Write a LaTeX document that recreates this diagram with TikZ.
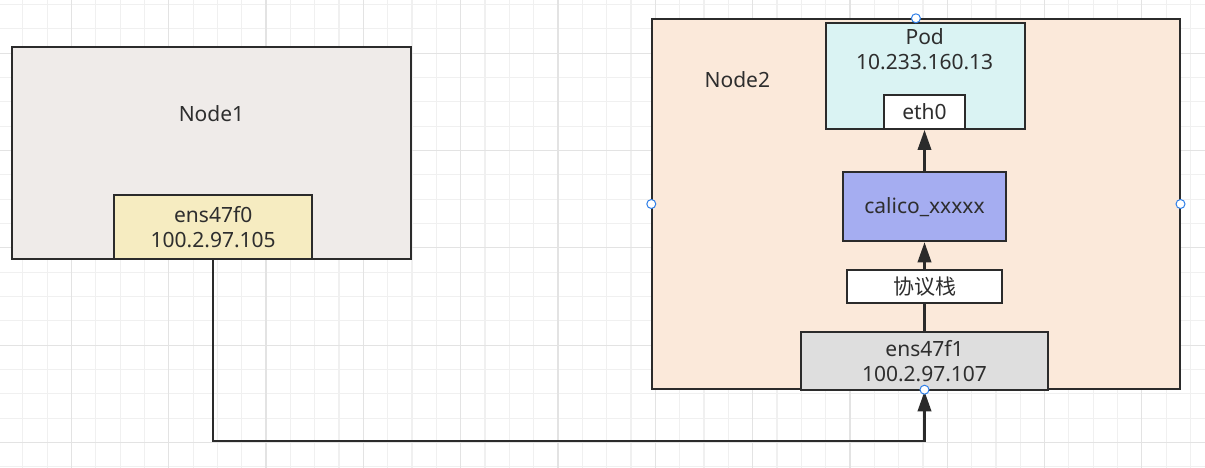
\documentclass[tikz,border=0pt]{standalone}
\usepackage{fontspec}
\setmainfont{Noto Sans}
\newfontfamily\cjk{Noto Sans CJK SC}
\usetikzlibrary{arrows.meta}
\definecolor{edgec}{HTML}{2B2B2B}
\definecolor{textgray}{HTML}{2E2E2E}
\definecolor{gridminor}{HTML}{F0F0F0}
\definecolor{gridmajor}{HTML}{E3E3E3}
\definecolor{nodeonefill}{HTML}{EFEBE9}
\definecolor{ensfill}{HTML}{F6ECC1}
\definecolor{nodetwofill}{HTML}{FBE9DA}
\definecolor{podfill}{HTML}{DAF3F3}
\definecolor{califill}{HTML}{A5ADF1}
\definecolor{ensonefill}{HTML}{DEDEDE}
\definecolor{handleblue}{HTML}{2F7FE8}
\tikzset{
  box/.style={draw=edgec, line width=2pt, inner sep=0pt, rectangle},
  txt/.style={text=textgray, font=\fontsize{21}{25}\selectfont, align=center, inner sep=0pt},
  conn/.style={draw=edgec, line width=2.2pt},
  arr/.style={conn, -{Triangle[length=20pt,width=13.5pt]}},
  handle/.style={circle, draw=handleblue, fill=white, line width=1pt, minimum size=9pt, inner sep=0pt},
}
\begin{document}
\begin{tikzpicture}[x=1pt,y=-1pt]
\useasboundingbox (0,0) rectangle (1205,468);
\fill[white] (0,0) rectangle (1205,468);
\begin{scope}
\clip (0,0) rectangle (1205,468);
\foreach \i in {0,...,50} { \draw[gridminor, line width=1.1pt] ({22.74+24.33*\i},0) -- ++(0,468); }
\foreach \i in {0,...,20} { \draw[gridminor, line width=1.1pt] (0,{4.44+24.33*\i}) -- ++(1205,0); }
\foreach \i in {0,...,13} { \draw[gridmajor, line width=1.1pt] ({-25.92+97.32*\i},0) -- ++(0,468); }
\foreach \i in {0,...,5} { \draw[gridmajor, line width=1.1pt] (0,{-44.22+97.32*\i}) -- ++(1205,0); }
\end{scope}

% Node1
\node[box, fill=nodeonefill, minimum width=399pt, minimum height=212pt] (n1) at (211.5,153.3) {};
\node[txt] (n1label) at (211.5,114) {Node1};
\node[box, fill=ensfill, minimum width=198.3pt, minimum height=64pt, txt] (e0) at (213.2,226.7) {ens47f0\\100.2.97.105};

% Node2
\node[box, fill=nodetwofill, minimum width=527.2pt, minimum height=369.4pt] (n2) at (915.9,204) {};
\node[txt] (n2label) at (737.3,80) {Node2};
\node[box, fill=podfill, minimum width=199.3pt, minimum height=106.3pt] (pod) at (925.25,75.85) {};
\node[txt] (podlabel) at (924.7,49.5) {Pod\\10.233.160.13};
\node[box, fill=white, minimum width=81pt, minimum height=34pt, txt] (eth) at (924.5,112) {eth0};
\node[box, fill=califill, minimum width=163.2pt, minimum height=69pt, txt] (cal) at (924.5,206.8) {calico\_xxxxx};
\node[box, fill=white, minimum width=155.3pt, minimum height=32.4pt, txt] (stack) at (924.5,286.5) {\cjk 协议栈};
\node[box, fill=ensonefill, minimum width=247.6pt, minimum height=58.3pt, txt] (e1) at (924.5,361.2) {ens47f1\\100.2.97.107};

% connectors
\draw[arr] (cal.north) -- (eth.south);
\draw[arr] (stack.north) -- (cal.south);
\draw[conn] (e1.north) -- (stack.south);
\draw[arr] (e0.south) -- ++(0,181.3) -| (e1.south);

% selection handles
\node[handle] (h1) at (n2.north) {};
\node[handle] (h2) at (n2.west) {};
\node[handle] (h3) at (n2.east) {};
\node[handle] (h4) at (n2.south -| e1.south) {};
\end{tikzpicture}
\end{document}
